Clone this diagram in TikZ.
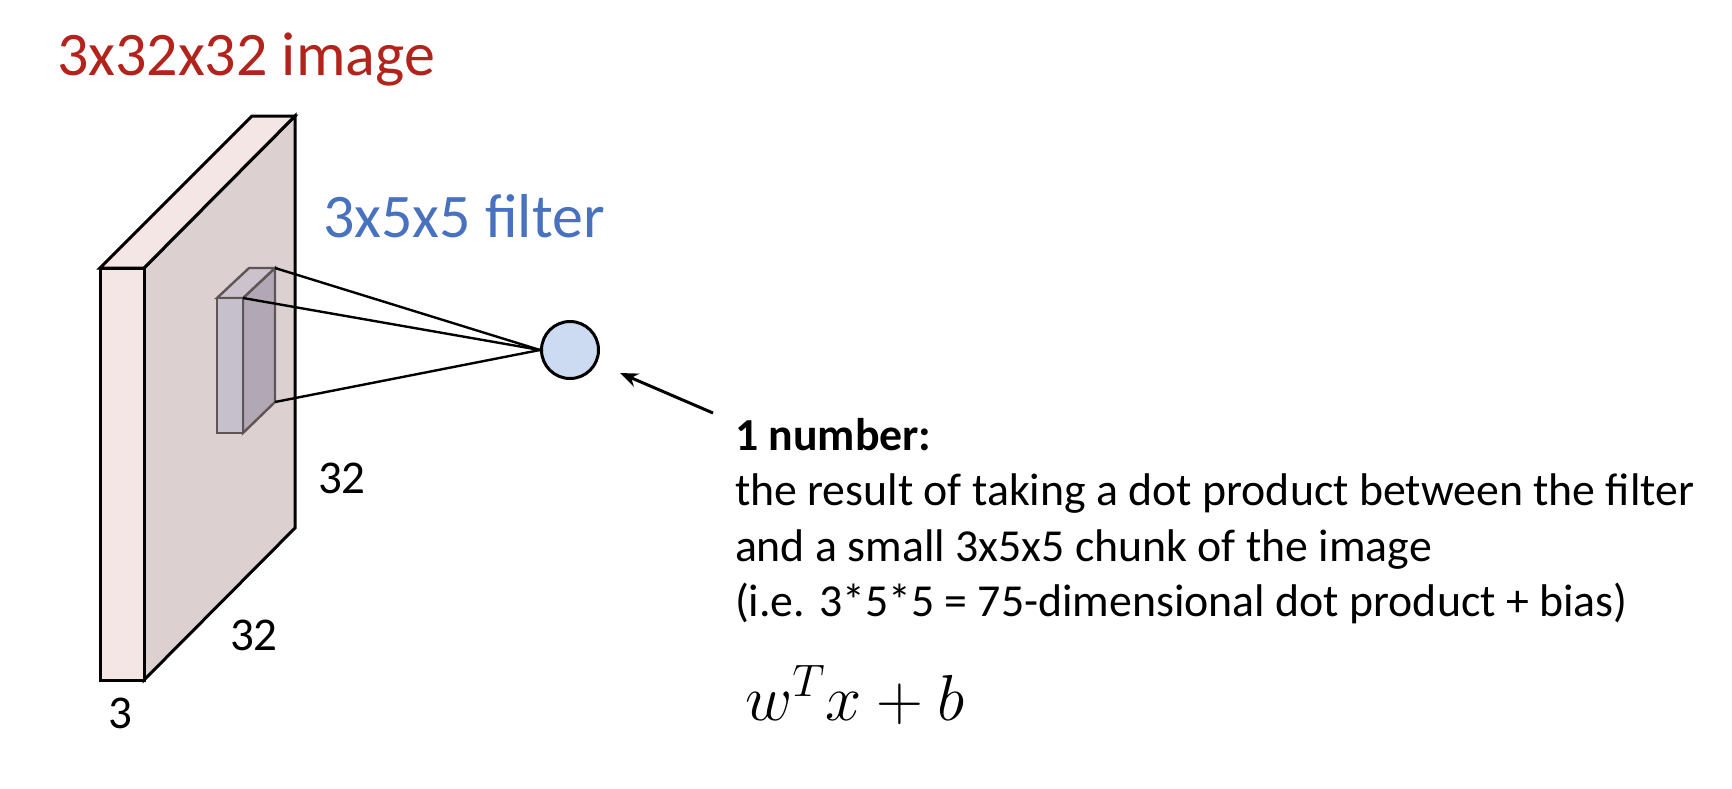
\RequirePackage{fix-cm}
\documentclass[tikz,border=0pt]{standalone}
\usepackage{fontspec}
\setmainfont{Carlito}
\usetikzlibrary{arrows.meta}
\definecolor{imgred}{RGB}{178,35,27}
\definecolor{filtblue}{RGB}{72,114,192}
\definecolor{slabfront}{RGB}{245,230,230}
\definecolor{slabside}{RGB}{221,208,208}
\definecolor{filtfront}{RGB}{198,192,205}
\definecolor{filtside}{RGB}{178,168,181}
\definecolor{filttop}{RGB}{204,194,206}
\definecolor{filtedge}{RGB}{95,85,85}
\definecolor{neuron}{RGB}{204,218,242}
\tikzset{
  slabface/.style={draw=black, line width=1.5pt, line join=miter},
  filtface/.style={draw=filtedge, line width=1.2pt, line join=miter},
  conn/.style={draw=black, line width=1.2pt},
  lbl/.style={anchor=base west, inner sep=0pt, outer sep=0pt},
  dimlbl/.style={lbl, font=\fontsize{23.5}{28}\selectfont},
  bodylbl/.style={lbl, font=\fontsize{22.9}{27}\selectfont},
}
\begin{document}
\begin{tikzpicture}[x=0.5pt, y=-0.5pt]
\useasboundingbox (0,0) rectangle (1732,788);
% slab
\coordinate (sA) at (100,268);
\coordinate (sB) at (144,268);
\coordinate (sC) at (144,680);
\coordinate (sD) at (100,680);
\coordinate (sE) at (252,116);
\coordinate (sF) at (295,116);
\coordinate (sG) at (295,528);
\filldraw[slabface, fill=slabside] (sB) -- (sF) -- (sG) -- (sC) -- cycle;
\filldraw[slabface, fill=slabfront] (sA) -- (sB) -- (sF) -- (sE) -- cycle;
\filldraw[slabface, fill=slabfront] (sA) rectangle (sC);
% filter box
\coordinate (fA) at (217,298);
\coordinate (fB) at (243,298);
\coordinate (fC) at (243,433);
\coordinate (fD) at (217,433);
\coordinate (fE) at (249,268);
\coordinate (fF) at (275,268);
\coordinate (fG) at (275,402);
\filldraw[filtface, fill=filtside] (fB) -- (fF) -- (fG) -- (fC) -- cycle;
\filldraw[filtface, fill=filttop] (fA) -- (fB) -- (fF) -- (fE) -- cycle;
\filldraw[filtface, fill=filtfront] (fA) rectangle (fC);
% neuron
\node[circle, draw=black, line width=1.5pt, fill=neuron, minimum size=57pt*0.5, inner sep=0pt] (nrn) at (570,350) {};
\draw[conn] (fF) -- (nrn.west);
\draw[conn] (fB) -- (nrn.west);
\draw[conn] (fG) -- (nrn.west);
% labels
\node[lbl, text=imgred, font=\fontsize{31}{36}\selectfont] (title) at (57,75) {3x32x32 image};
\node[lbl, text=filtblue, font=\fontsize{31}{36}\selectfont] (ftitle) at (323,237) {3x5x5 filter};
\node[dimlbl] (h32) at (318,493) {32};
\node[dimlbl] (w32) at (230,650) {32};
\node[dimlbl] (d3) at (108,728) {3};
% explanation
\node[bodylbl, font=\fontsize{22.9}{27}\selectfont\bfseries] (num) at (735,450) {1 number:};
\node[bodylbl] (l1) at (735,505) {the result of taking a dot product between the filter};
\node[bodylbl] (l2) at (735,561) {and a small 3x5x5 chunk of the image};
\node[bodylbl] (l3) at (735,616) {(i.e. 3*5*5 = 75-dimensional dot product + bias)};
\node[lbl, font=\fontsize{32.5}{39}\selectfont] (eq) at (745,720) {$w^Tx+b$};
% arrow
\coordinate (atail) at (713,413);
\coordinate (ahead) at (620,373);
\draw[line width=1.5pt, -{Stealth[length=9pt, width=7pt]}] (atail) -- (ahead);
\end{tikzpicture}
\end{document}
